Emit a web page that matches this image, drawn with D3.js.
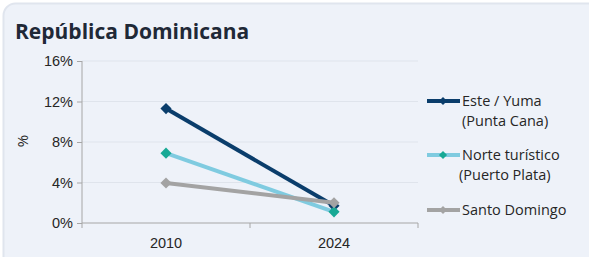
<!DOCTYPE html>
<html>
<head>
<meta charset="utf-8">
<script src="https://cdn.jsdelivr.net/npm/d3@7"></script>
<style>
  body { margin: 0; background: #ffffff; }
  svg { display: block; font-family: "Open Sans", "Noto Sans", sans-serif; }
</style>
</head>
<body>
<svg width="589" height="257"></svg>
<script>
// datos
const years = ['2010', '2024'];
const seriesNames = ['Este / Yuma|(Punta Cana)', 'Norte turístico|(Puerto Plata)', 'Santo Domingo'];
const este = [11.3, 1.7];
const norte = [6.9, 1.1];
const santo = [3.95, 2.0];
const yTicks = [0, 4, 8, 12, 16];

const series = [
  { name: seriesNames[0], values: este, line: '#0a3d6b', marker: '#0a3d6b', width: 4 },
  { name: seriesNames[1], values: norte, line: '#7fcbe0', marker: '#17a995', width: 4 },
  { name: seriesNames[2], values: santo, line: '#a3a3a3', marker: '#a3a3a3', width: 4 }
];

const svg = d3.select('svg');

// panel de fondo
svg.append('rect')
  .attr('x', 3.5).attr('y', 3.5)
  .attr('width', 620).attr('height', 290)
  .attr('rx', 12)
  .attr('fill', '#eef2f9')
  .attr('stroke', '#e0e5ee')
  .attr('stroke-width', 2);

svg.append('text')
  .attr('x', 15).attr('y', 39)
  .attr('font-size', 21).attr('font-weight', 700)
  .attr('fill', '#1f2937')
  .text('República Dominicana');

const x = d3.scaleBand().domain(years).range([82, 418]);
const y = d3.scaleLinear().domain([0, 16]).range([223, 61]);

// líneas de cuadrícula
svg.append('g').selectAll('line')
  .data(yTicks.filter(d => d > 0))
  .enter().append('line')
  .attr('x1', 82).attr('x2', 418)
  .attr('y1', d => y(d)).attr('y2', d => y(d))
  .attr('stroke', '#dfe4ec').attr('stroke-width', 1);

const yAxis = svg.append('g')
  .attr('transform', 'translate(82,0)')
  .call(d3.axisLeft(y).tickValues(yTicks).tickSize(5).tickPadding(4).tickFormat(d => d + '%'));
yAxis.select('.domain').attr('stroke', '#a6a6a6').attr('d', 'M0,' + y(16) + 'V' + y(0));
yAxis.selectAll('.tick line').attr('stroke', '#a6a6a6');
yAxis.selectAll('text').attr('font-size', 14.5).attr('fill', '#262626');

const xAxis = svg.append('g')
  .attr('transform', 'translate(0,223)')
  .call(d3.axisBottom(x).tickSize(0).tickPadding(15));
xAxis.select('.domain').attr('stroke', '#a6a6a6').attr('d', 'M82,0H418');
xAxis.selectAll('text').attr('font-size', 14.5).attr('fill', '#262626');
xAxis.append('g').selectAll('line')
  .data([82, 82 + x.bandwidth(), 418])
  .enter().append('line')
  .attr('x1', d => d).attr('x2', d => d)
  .attr('y1', 0).attr('y2', 5)
  .attr('stroke', '#a6a6a6');

svg.append('text')
  .attr('transform', 'translate(28,141) rotate(-90)')
  .attr('text-anchor', 'middle')
  .attr('font-size', 15).attr('fill', '#262626')
  .text('%');

const line = d3.line()
  .x((d, i) => x(years[i]) + x.bandwidth() / 2)
  .y(d => y(d));

// rombo = cuadrado girado 45°
const diamond = d3.symbol().type(d3.symbolSquare).size(62);

series.forEach(s => {
  svg.append('path')
    .attr('d', line(s.values))
    .attr('fill', 'none')
    .attr('stroke', s.line)
    .attr('stroke-width', s.width);
});
series.forEach(s => {
  svg.append('g').selectAll('path')
    .data(s.values)
    .enter().append('path')
    .attr('d', diamond)
    .attr('transform', (d, i) => 'translate(' + (x(years[i]) + x.bandwidth() / 2) + ',' + y(d) + ') rotate(45)')
    .attr('fill', s.marker);
});

// leyenda
const legendY = [101, 155, 210];
const secondX = [35, 32];
series.forEach((s, i) => {
  const g = svg.append('g').attr('transform', 'translate(427,' + legendY[i] + ')');
  g.append('line').attr('x1', 0).attr('x2', 33)
    .attr('stroke', s.line).attr('stroke-width', s.width);
  g.append('path').attr('d', d3.symbol().type(d3.symbolSquare).size(34))
    .attr('transform', 'translate(16,0) rotate(45)').attr('fill', s.marker);
  const parts = s.name.split('|');
  parts.forEach((p, j) => {
    g.append('text')
      .attr('x', j === 0 ? 35 : secondX[i])
      .attr('y', 5 + j * 20)
      .attr('font-size', 14.5).attr('fill', '#262626')
      .text(p);
  });
});
</script>
</body>
</html>
